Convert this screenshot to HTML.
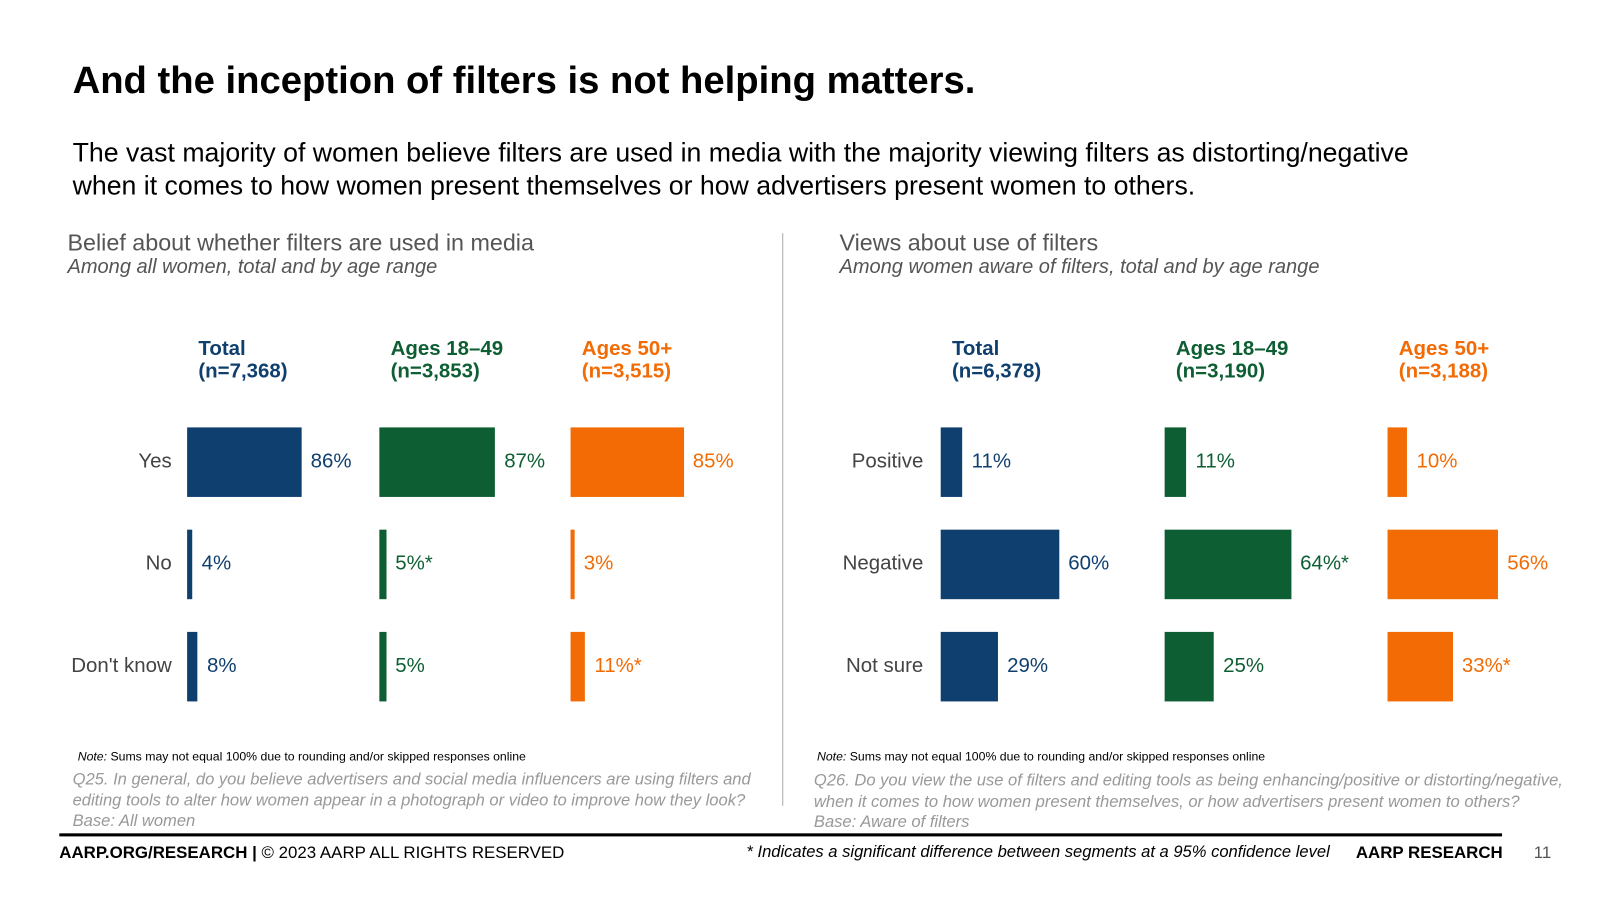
<!DOCTYPE html>
<html><head><meta charset="utf-8"><style>
body{margin:0;width:1600px;height:900px;background:#fff;font-family:"Liberation Sans",sans-serif;position:relative;overflow:hidden}
#wrap{position:absolute;left:0;top:0;width:1565px;height:880px;transform:scale(1.0225);transform-origin:0 0}
.a{position:absolute;white-space:nowrap}
</style></head><body>
<div id="wrap">
<div class="a" style="left:71px;top:57px;font-size:37.4px;font-weight:bold;color:#000">And the inception of filters is not helping matters.</div>
<div class="a" style="left:71px;top:133px;font-size:26.1px;line-height:32px;color:#000">The vast majority of women believe filters are used in media with the majority viewing filters as distorting/negative<br>when it comes to how women present themselves or how advertisers present women to others.</div>
<div class="a" style="left:66px;top:224px;font-size:22.8px;color:#555">Belief about whether filters are used in media</div>
<div class="a" style="left:66px;top:250px;font-size:19.6px;font-style:italic;color:#555">Among all women, total and by age range</div>
<div class="a" style="left:821px;top:224px;font-size:22.8px;color:#555">Views about use of filters</div>
<div class="a" style="left:821px;top:250px;font-size:19.6px;font-style:italic;color:#555">Among women aware of filters, total and by age range</div>
<div class="a" style="left:765px;top:228px;width:1px;height:560px;background:#aaa"></div>
<div id="charts"></div>
<div class="a" style="left:76px;top:733px;font-size:12px;color:#000"><i>Note:</i> Sums may not equal 100% due to rounding and/or skipped responses online</div>
<div class="a" style="left:799px;top:733px;font-size:12px;color:#000"><i>Note:</i> Sums may not equal 100% due to rounding and/or skipped responses online</div>
<div class="a" style="left:71px;top:752px;font-size:16.2px;line-height:20.5px;font-style:italic;color:#999">Q25. In general, do you believe advertisers and social media influencers are using filters and<br>editing tools to alter how women appear in a photograph or video to improve how they look?<br>Base: All women</div>
<div class="a" style="left:796px;top:753px;font-size:16.2px;line-height:20.5px;font-style:italic;color:#999">Q26. Do you view the use of filters and editing tools as being enhancing/positive or distorting/negative,<br>when it comes to how women present themselves, or how advertisers present women to others?<br>Base: Aware of filters</div>
<div class="a" style="left:58px;top:815px;width:1411px;height:3px;background:#000"></div>
<div class="a" style="left:58px;top:825px;font-size:16.5px;color:#000"><b>AARP.ORG/RESEARCH |</b> © 2023 AARP ALL RIGHTS RESERVED</div>
<div class="a" style="left:730px;top:824px;font-size:16.2px;font-style:italic;color:#000">* Indicates a significant difference between segments at a 95% confidence level</div>
<div class="a" style="left:1326px;top:825px;font-size:16.5px;font-weight:bold;color:#000">AARP RESEARCH</div>
<div class="a" style="left:1500px;top:825px;font-size:16.5px;color:#555">11</div>
</div>
<script>
const leftCategories=["Yes","No","Don't know"];
const leftTotal=[86,4,8];
const left1849=[87,5,5];
const left50=[85,3,11];
const leftLabels=[["86%","4%","8%"],["87%","5%*","5%"],["85%","3%","11%*"]];
const leftHeaders=[["Total","(n=7,368)"],["Ages 18–49","(n=3,853)"],["Ages 50+","(n=3,515)"]];
const rightCategories=["Positive","Negative","Not sure"];
const rightTotal=[11,60,29];
const right1849=[11,64,25];
const right50=[10,56,33];
const rightLabels=[["11%","60%","29%"],["11%","64%*","25%"],["10%","56%","33%*"]];
const rightHeaders=[["Total","(n=6,378)"],["Ages 18–49","(n=3,190)"],["Ages 50+","(n=3,188)"]];
const colors=["#0f3f6e","#0e5e33","#f26b04"];
const root=document.getElementById('charts');
function mk(css,txt){const d=document.createElement('div');d.className='a';d.style.cssText=css;if(txt!==undefined)d.textContent=txt;root.appendChild(d);return d;}
function chart(prefix,cats,series,labels,headers,catRight,groupX,scale){
  const rowY=i=>418+i*100;
  cats.forEach((c,i)=>{const e=mk(`right:${1565-catRight}px;top:${rowY(i)+22}px;font-size:20px;color:#444`,c);
    
    });
  series.forEach((vals,s)=>{
    const x0=groupX[s];
    const h=mk(`left:${x0+11}px;top:330px;font-size:20px;line-height:22px;font-weight:bold;color:${colors[s]}`);
    h.innerHTML=headers[s][0]+'<br>'+headers[s][1];
    
    
    vals.forEach((v,i)=>{
      const w=v*scale;
      const b=mk(`left:${x0}px;top:${rowY(i)}px;width:${w}px;height:68px;background:${colors[s]}`);
      
      
      const l=mk(`left:${x0+w+9}px;top:${rowY(i)+22}px;font-size:20px;color:${colors[s]}`,labels[s][i]);
      
      
    });
  });
}
chart('left',leftCategories,[leftTotal,left1849,left50],leftLabels,leftHeaders,168,[183,371,558],1.3);
chart('right',rightCategories,[rightTotal,right1849,right50],rightLabels,rightHeaders,903,[920,1139,1357],1.93);
</script>
</body></html>
